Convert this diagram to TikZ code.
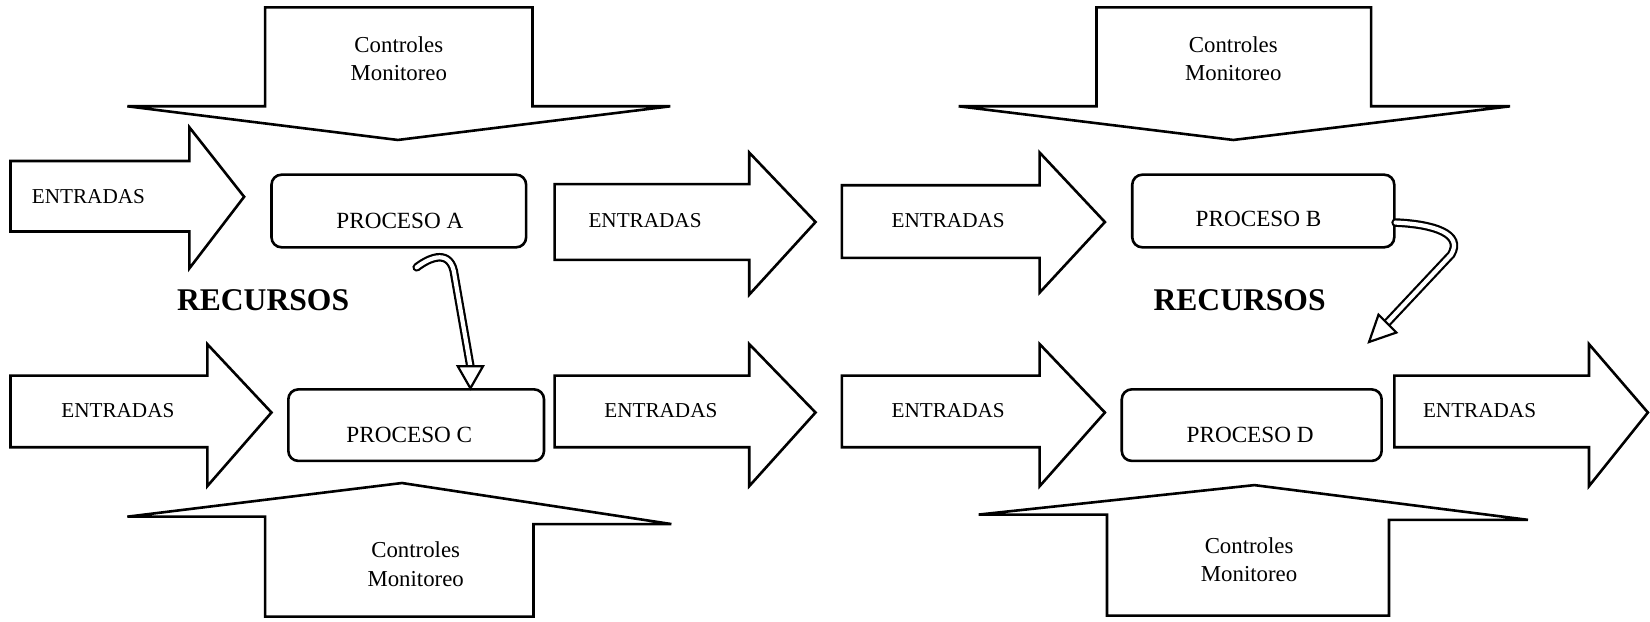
\documentclass[tikz,border=0pt]{standalone}
\usepackage{fontspec}
\setmainfont{Liberation Serif}
% Block arrow pointing right: x0, head base x, tip x, body top, body bottom, head top, head bottom, tip y
\newcommand\flechaDer[8]{%
  \draw[outline] (#1,#4) -- (#2,#4) -- (#2,#6) -- (#3,#8) -- (#2,#7) -- (#2,#5) -- (#1,#5) -- cycle;}
% Wide-headed control arrow (down or up): body left, body right, body end y,
% head base y (left), head base y (right), head left x, head right x, tip x, tip y
\newcommand\flechaControl[9]{%
  \draw[outline] (#1,#3) -- (#2,#3) -- (#2,#5) -- (#7,#5) -- (#8,#9) -- (#6,#4) -- (#1,#4) -- cycle;}
\begin{document}
\begin{tikzpicture}[x=0.52615pt,y=-0.52615pt,
  outline/.style={draw=black,fill=white,line width=1.3pt,line join=miter},
  proc/.style={draw=black,line width=1.3pt,rounded corners=5pt,inner sep=0pt},
  txt/.style={font=\fontsize{10.6}{12}\selectfont,inner sep=0pt},
  ptxt/.style={font=\fontsize{11.6}{13}\selectfont,inner sep=0pt},
  ctxt/.style={font=\fontsize{11.4}{14.2}\selectfont,inner sep=0pt,align=center},
  rtxt/.style={font=\fontsize{15.8}{18}\selectfont\bfseries,inner sep=0pt},
  shaft/.style={draw=black,line width=1.1pt,double=white,double distance=2.1pt,line cap=round},
  head/.style={draw=black,fill=white,line width=1.1pt,line join=miter}]
\useasboundingbox (0,0) rectangle (1568,591);

% ---- control arrows ----
\flechaControl{252}{506}{7}{101}{101}{121}{637}{378}{133}
\flechaControl{1042}{1303}{7}{101}{101}{911}{1435}{1172}{133}
\flechaControl{252}{507}{586}{491}{498}{121}{638}{382}{459}
\flechaControl{1052}{1320}{585}{489}{494}{930}{1452}{1192}{461}
\node[ctxt] (ctl1) at (379,56) {Controles\\Monitoreo};
\node[ctxt] (ctl2) at (1172,56) {Controles\\Monitoreo};
\node[ctxt] (ctl3) at (395,536) {Controles\\Monitoreo};
\node[ctxt] (ctl4) at (1187,532) {Controles\\Monitoreo};

% ---- input arrows ----
\flechaDer{10}{180}{232}{153}{220}{121}{255}{187}
\flechaDer{527}{712}{775}{175}{247}{145}{280}{211}
\flechaDer{800}{988}{1050}{176}{245}{145}{278}{211}
\flechaDer{10}{197}{258}{357}{425}{327}{462}{392}
\flechaDer{527}{712}{775}{357}{425}{327}{462}{392}
\flechaDer{800}{988}{1050}{357}{425}{327}{462}{392}
\flechaDer{1325}{1510}{1566}{357}{425}{327}{462}{392}
\node[txt] (e1) at (84,187) {ENTRADAS};
\node[txt] (e2) at (613,210) {ENTRADAS};
\node[txt] (e3) at (901,210) {ENTRADAS};
\node[txt] (e4) at (112,390) {ENTRADAS};
\node[txt] (e5) at (628,390) {ENTRADAS};
\node[txt] (e6) at (901,390) {ENTRADAS};
\node[txt] (e7) at (1406,390) {ENTRADAS};

% ---- processes ----
\node[proc,minimum width=242*0.52615pt,minimum height=69*0.52615pt] (pa) at (379,200.5) {};
\node[proc,minimum width=249*0.52615pt,minimum height=69*0.52615pt] (pb) at (1200.5,200.5) {};
\node[proc,minimum width=243*0.52615pt,minimum height=68*0.52615pt] (pc) at (395.5,404) {};
\node[proc,minimum width=247*0.52615pt,minimum height=68*0.52615pt] (pd) at (1189.5,404) {};
\node[ptxt] (pat) at (380,210) {PROCESO A};
\node[ptxt] (pbt) at (1196,208) {PROCESO B};
\node[ptxt] (pct) at (389,413) {PROCESO C};
\node[ptxt] (pdt) at (1188,413) {PROCESO D};

% ---- resources ----
\node[rtxt] (r1) at (250,285) {RECURSOS};
\node[rtxt] (r2) at (1178,285) {RECURSOS};

% ---- hollow curved arrows ----
\coordinate (acStart) at (396,254);
\coordinate (acBase) at (447,348);
\coordinate (acTip) at (447,369);
\draw[shaft] (acStart) .. controls (409,244) and (429,236) .. (432,262) -- (acBase);
\draw[head] (435,348) -- (acTip) -- (459,348) -- cycle;

\coordinate (bdBase) at (1318,307);
\coordinate (bdTip) at (1301,325);
\draw[shaft] (pb.-5) .. controls (1362,213) and (1391,222) .. (1379,242) -- (bdBase);
\draw[head] (1310,299) -- (bdTip) -- (1327,316) -- cycle;
\end{tikzpicture}
\end{document}
